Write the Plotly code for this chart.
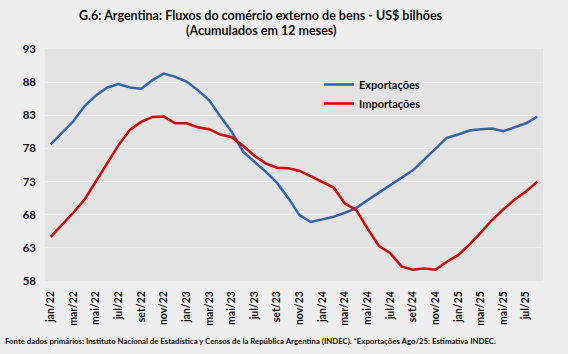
import plotly.graph_objects as go

meses_abrev = ["jan", "fev", "mar", "abr", "mai", "jun", "jul", "ago", "set", "out", "nov", "dez"]
anos = ["22", "23", "24", "25"]
meses = [f"{m}/{a}" for a in anos for m in meses_abrev][:44]  # jan/22 .. ago/25

exportacoes = [78.6, 80.4, 82.1, 84.4, 86.0, 87.2, 87.7, 87.2, 87.0, 88.3, 89.3, 88.8,
               88.1, 86.8, 85.3, 82.8, 80.5, 77.5, 76.0, 74.5, 72.8, 70.5, 67.9, 66.9,
               67.3, 67.7, 68.3, 69.0, 70.2, 71.3, 72.5, 73.5, 74.7, 76.3, 77.9, 79.6,
               80.1, 80.7, 80.9, 81.0, 80.6, 81.2, 81.8, 82.8]
importacoes = [64.65, 66.4, 68.3, 70.3, 73.0, 75.75, 78.5, 80.8, 82.0, 82.75, 82.8, 81.8,
               81.8, 81.2, 80.9, 80.1, 79.7, 78.4, 76.9, 75.75, 75.1, 75.0, 74.6, 73.8,
               73.0, 72.1, 69.7, 68.7, 65.9, 63.3, 62.2, 60.2, 59.7, 59.9, 59.7, 60.9,
               61.9, 63.5, 65.3, 67.2, 68.8, 70.3, 71.5, 73.0]
y_ticks = [58, 63, 68, 73, 78, 83, 88, 93]

titulo1 = "G.6: Argentina: Fluxos do comércio externo de bens - US$ bilhões"
titulo2 = "(Acumulados em 12 meses)"
fonte = ("Fonte dados primários: Instituto Nacional de Estadística y Censos de la República "
         "Argentina (INDEC). *Exportações Ago/25: Estimativa INDEC.")

FONT = "Lato"
W, H = 568, 354
l, r, t, b = 45, 25, 49, 73
pw, ph = W - l - r, H - t - b


def px_x(x):
    return (x - l) / pw


def px_y(y):
    return (H - b - y) / ph


fig = go.Figure()
fig.add_trace(go.Scatter(x=meses, y=exportacoes, mode="lines", name="Exportações",
                         line=dict(color="#3563ad", width=2.5)))
fig.add_trace(go.Scatter(x=meses, y=importacoes, mode="lines", name="Importações",
                         line=dict(color="#cc0a0a", width=2.5)))

fig.update_layout(
    width=W, height=H,
    margin=dict(l=l, r=r, t=t, b=b),
    paper_bgcolor="#eeeeee",
    plot_bgcolor="#e3e3e3",
    font=dict(family=FONT, color="#111111"),
    showlegend=True,
    legend=dict(x=px_x(319), y=px_y(70), xanchor="left", yanchor="top",
                bgcolor="rgba(0,0,0,0)", font=dict(size=11, family=FONT, weight="bold"),
                tracegroupgap=4, itemwidth=30),
    xaxis=dict(type="category", categoryorder="array", categoryarray=meses,
               tickmode="array", tickvals=meses[::2], ticktext=meses[::2],
               tickangle=-90, tickfont=dict(size=10.5, family=FONT, weight="bold"),
               showgrid=False, zeroline=False, showline=False, ticks="",
               ticklabelstandoff=7, range=[-0.5, 43.5]),
    yaxis=dict(range=[58, 93], tickmode="array", tickvals=y_ticks,
               tickfont=dict(size=11.5, family=FONT, weight="bold"),
               showgrid=True, gridcolor="#eeeeee", gridwidth=1,
               zeroline=False, showline=False, ticks="", ticklabelstandoff=8),
    annotations=[
        dict(text=titulo1, x=px_x(261), xref="paper", xanchor="center",
             y=px_y(15), yref="paper", yanchor="middle",
             showarrow=False, font=dict(size=12.5, family=FONT, weight="bold")),
        dict(text=titulo2, x=px_x(261), xref="paper", xanchor="center",
             y=px_y(31), yref="paper", yanchor="middle",
             showarrow=False, font=dict(size=12.5, family=FONT, weight="bold")),
        dict(text=fonte, x=px_x(3), xref="paper", xanchor="left",
             y=px_y(341), yref="paper", yanchor="middle",
             showarrow=False, font=dict(size=7.8, family=FONT, weight="bold")),
    ],
)

fig.write_html("out.html")
